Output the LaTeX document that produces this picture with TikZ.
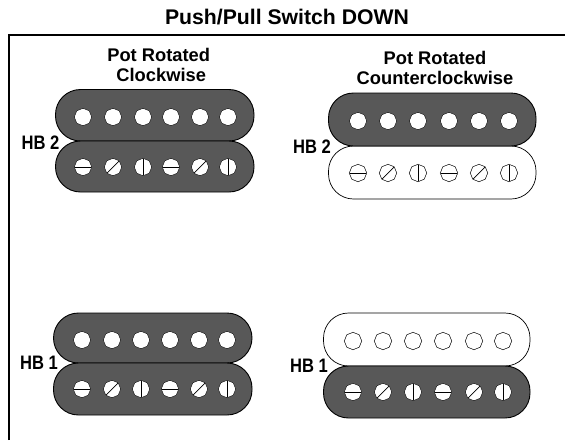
\documentclass[tikz,border=0pt]{standalone}
\usepackage{fontspec}
\usepackage{graphicx}
\setmainfont{Liberation Sans}
\usetikzlibrary{shapes.geometric}
\definecolor{pickup}{RGB}{88,88,88}
\tikzset{
  x=1pt,y=-1pt,
  lbl/.style={inner sep=0pt,font=\bfseries\fontsize{18.3}{20}\selectfont,align=center,text=black},
  hblbl/.style={inner sep=0pt,font=\bfseries\fontsize{19.5}{20}\selectfont,text=black},
  bobfill/.style={draw=black,line width=0.9pt,fill=pickup,rounded corners=25pt},
  bobopen/.style={draw=black,line width=0.7pt,fill=white,rounded corners=25pt},
  pole/.style={regular polygon,regular polygon sides=8,minimum size=17.5pt,inner sep=0pt,shape border rotate=22.5},
  polefill/.style={pole,fill=white,draw=black,line width=0.4pt},
  poleopen/.style={pole,fill=white,draw=black,line width=0.5pt},
  slot/.style={draw=black,line width=0.7pt},
}
\newcommand{\polerow}[3]{%
  \foreach \px in {#1} {\node[#3] at (\px,#2) {};}}
\newcommand{\screwrow}[3]{%
  \foreach \px/\ang in {#1} {%
    \node[#3] at (\px,#2) {};
    \draw[slot] ({\px-8.2*cos(\ang)},{#2-8.2*sin(\ang)}) -- ({\px+8.2*cos(\ang)},{#2+8.2*sin(\ang)});}}
\newcommand{\hbtext}[1]{\scalebox{0.85}[1]{#1}}
\begin{document}
\begin{tikzpicture}
\useasboundingbox (0,0) rectangle (565,440);
\fill[white] (0,0) rectangle (565,440);
\draw[black,line width=2pt] (9,440) -- (9,35) -- (565,35);
\node[lbl,font=\bfseries\fontsize{21.2}{24}\selectfont] (title) at (287,17.5) {Push/Pull Switch DOWN};
% top left
\node[lbl] (tl) at (158.7,65) {Pot Rotated\\\hspace*{5pt}Clockwise};
\draw[bobfill] (55.5,89.5) rectangle (254,141);
\draw[bobfill] (55.5,141) rectangle (254,192);
\polerow{83,113,143,171,200,228}{117}{polefill}
\screwrow{83/0,113/-45,143/90,171/0,200/-45,228/90}{167}{polefill}
\node[hblbl] (hb2l) at (40.5,143) {\hbtext{HB 2}};
% top right
\node[lbl] (tr) at (435,68) {Pot Rotated\\Counterclockwise};
\draw[bobopen] (328.5,146) rectangle (536,199);
\draw[bobfill] (328.5,93) rectangle (536,146);
\polerow{358,388,418,449,479,509}{121}{polefill}
\screwrow{358/0,388/-45,418/90,449/0,479/-45,509/90}{173}{poleopen}
\node[hblbl] (hb2r) at (312,147) {\hbtext{HB 2}};
% bottom left
\draw[bobfill] (53.5,313) rectangle (252,363);
\draw[bobfill] (53.5,363) rectangle (252,415);
\polerow{82,112,141,170,199,227}{340}{polefill}
\screwrow{82/0,112/-45,141/90,170/0,199/-45,227/90}{389}{polefill}
\node[hblbl] (hb1l) at (39,363) {\hbtext{HB 1}};
% bottom right
\draw[bobopen] (323.5,313) rectangle (530,366);
\draw[bobfill] (323.5,366) rectangle (530,418);
\polerow{353,383,413,443,474,503}{341}{poleopen}
\screwrow{353/0,383/-45,413/90,443/0,474/-45,503/90}{392}{polefill}
\node[hblbl] (hb1r) at (309,366) {\hbtext{HB 1}};
\end{tikzpicture}
\end{document}
